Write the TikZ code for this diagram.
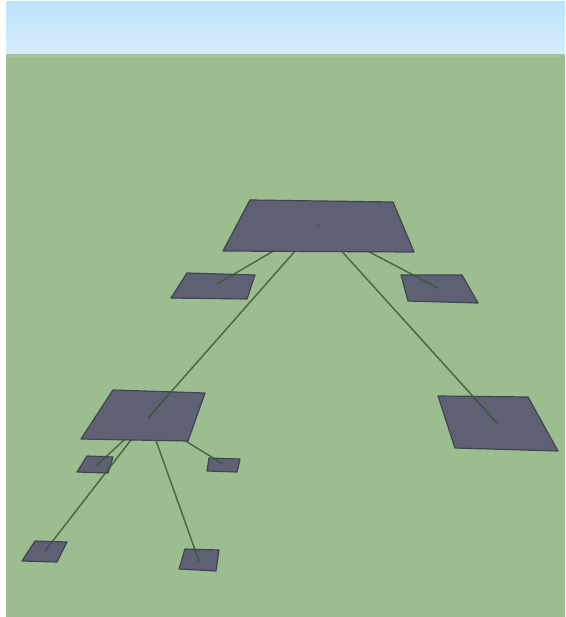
\documentclass[tikz,border=0pt]{standalone}
\usetikzlibrary{calc}
\definecolor{skytop}{RGB}{189,227,251}
\definecolor{skylow}{RGB}{214,237,251}
\definecolor{grass}{RGB}{155,189,143}
\definecolor{padfill}{RGB}{94,97,116}
\definecolor{padedge}{RGB}{66,68,82}
\definecolor{tether}{RGB}{55,84,52}
\tikzset{
  pad/.style={fill=padfill, draw=padedge, line width=1.2pt, line join=round},
  link/.style={draw=tether, line width=1.5pt, opacity=0.8, line cap=round}
}
\begin{document}
\begin{tikzpicture}[x=1pt,y=-1pt]
\useasboundingbox (0,0) rectangle (565,617);
\fill[white] (0,0) rectangle (565,617);
% sky and ground
\shade[top color=skytop, bottom color=skylow] (6,2) rectangle (565,55);
\fill[grass] (6,55) rectangle (565,617);
\fill[grass!85!skylow] (6,54) rectangle (565,57);

% centres of the pads
\coordinate (root) at (318,225);
\coordinate (ls) at (217,284);
\coordinate (rs) at (438,288);
\coordinate (mid) at (148,418);
\coordinate (rb) at (497,423);
\coordinate (ma) at (97,465);
\coordinate (mb) at (223,464);
\coordinate (mc) at (45,551);
\coordinate (md) at (199,561);

% lowest pads
\draw[pad] (35,541) -- (67,542) -- (57,562) -- (22,561) -- cycle;
\draw[pad] (185,549) -- (219,550) -- (216,571) -- (179,569) -- cycle;
\draw[pad] (87,456) -- (113,457) -- (108,473) -- (77,472) -- cycle;
\draw[pad] (209,458) -- (240,459) -- (237,472) -- (207,471) -- cycle;
\draw[link] (mid) -- (mc);
\draw[link] (mid) -- (md);
\draw[link] (mid) -- (ma);
\draw[link] (mid) -- (mb);

% middle pads
\draw[pad] (113,390) -- (205,393) -- (188,441) -- (81,439) -- cycle;
\draw[pad] (438,396) -- (528,397) -- (558,451) -- (455,448) -- cycle;
\draw[pad] (187,273) -- (255,275) -- (247,299) -- (171,298) -- cycle;
\draw[pad] (401,275) -- (462,275) -- (478,303) -- (408,301) -- cycle;
\draw[link] (root) -- (mid);
\draw[link] (root) -- (rb);
\draw[link] (root) -- (ls);
\draw[link] (root) -- (rs);

% top pad
\draw[pad] (250,200) -- (393,202) -- (414,252) -- (223,251) -- cycle;
\fill[padedge] (root) circle (0.8);
\end{tikzpicture}
\end{document}
